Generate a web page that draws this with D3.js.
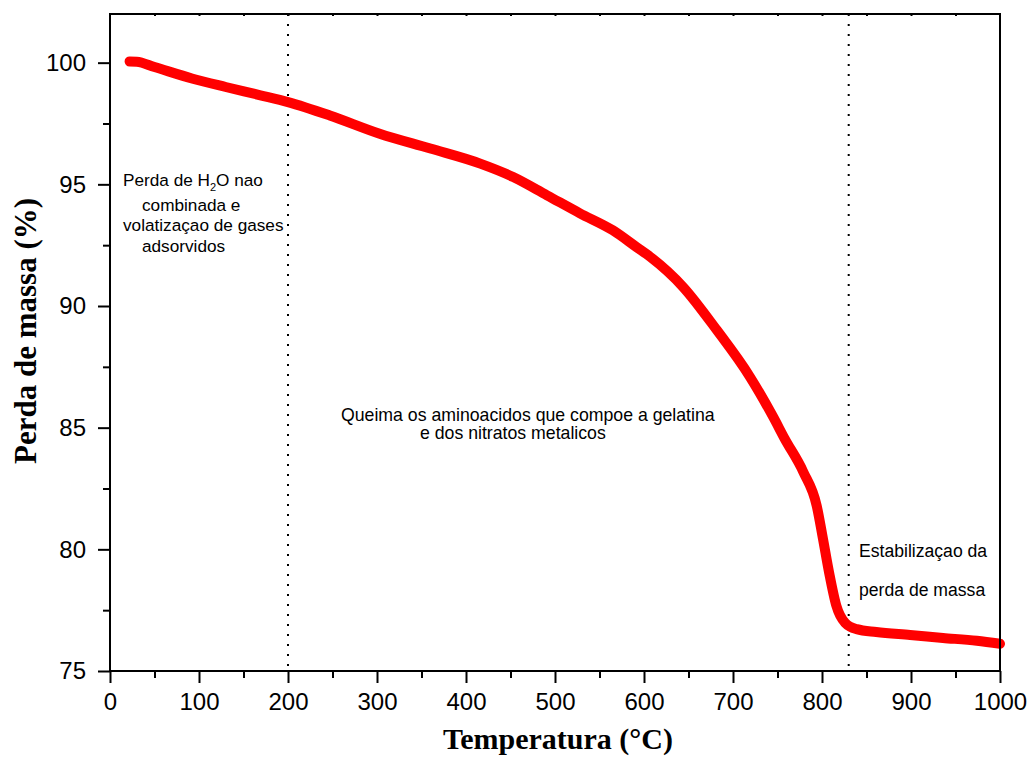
<!DOCTYPE html>
<html><head><meta charset="utf-8">
<script src="https://cdn.jsdelivr.net/npm/d3@7"></script>
<style>body{margin:0;background:#fff}svg{display:block}</style>
</head><body>
<svg id="c" width="1030" height="769"></svg>
<script>
const temperature = [22, 30, 50, 93, 130, 169, 200, 247, 303, 360, 416, 453, 491, 528, 565, 592, 607, 644, 682, 719, 745, 758, 779, 794, 801, 808, 816, 826, 839, 861, 899, 936, 974, 1000];
const massLoss = [100.05, 100.04, 99.82, 99.34, 99.0, 98.66, 98.38, 97.83, 97.08, 96.47, 95.85, 95.30, 94.55, 93.81, 93.11, 92.41, 92.02, 90.78, 89.0, 87.09, 85.45, 84.55, 83.18, 81.8, 80.45, 79.04, 77.7, 76.98, 76.72, 76.6, 76.48, 76.36, 76.24, 76.12];
const xTicks = [0, 100, 200, 300, 400, 500, 600, 700, 800, 900, 1000];
const yTicks = [75, 80, 85, 90, 95, 100];
const stageBoundaries = [200, 830];
const xTitle = "Temperatura (°C)";
const yTitle = "Perda de massa (%)";

const svg = d3.select("#c");
const L = 110, R = 1000, T = 14, B = 671;
const x = d3.scaleLinear().domain([0, 1000]).range([L, R]);
const y = d3.scaleLinear().domain([75, 102]).range([B, T]);
const sans = "'Liberation Sans', Arial, sans-serif";
const serif = "'Liberation Serif', 'Times New Roman', serif";

// dotted stage boundaries
svg.selectAll("line.stage").data(stageBoundaries).enter().append("line")
  .attr("x1", d => x(d)).attr("x2", d => x(d))
  .attr("y1", T).attr("y2", B)
  .attr("stroke", "#000").attr("stroke-width", 2).attr("stroke-dasharray", "2 8");

// curve
const data = temperature.map((t, i) => [t, massLoss[i]]);
svg.append("path").datum(data)
  .attr("fill", "none").attr("stroke", "#ff0000").attr("stroke-width", 10)
  .attr("stroke-linecap", "round").attr("stroke-linejoin", "round")
  .attr("d", d3.line().x(d => x(d[0])).y(d => y(d[1])).curve(d3.curveMonotoneX));

// frame
svg.append("rect").attr("x", L).attr("y", T).attr("width", R - L).attr("height", B - T)
  .attr("fill", "none").attr("stroke", "#000").attr("stroke-width", 2);

// axes
const xMinor = d3.range(50, 1000, 100);
const yMinor = d3.range(77.5, 100, 5);
const gx = svg.append("g").attr("transform", `translate(0,${B})`)
  .call(d3.axisBottom(x).tickValues(xTicks).tickSize(12).tickPadding(10).tickFormat(d3.format("d")));
const gxm = svg.append("g").attr("transform", `translate(0,${B})`)
  .call(d3.axisBottom(x).tickValues(xMinor).tickSize(7).tickFormat(""));
const gy = svg.append("g").attr("transform", `translate(${L},0)`)
  .call(d3.axisLeft(y).tickValues(yTicks).tickSize(12).tickPadding(12).tickFormat(d3.format("d")));
const gym = svg.append("g").attr("transform", `translate(${L},0)`)
  .call(d3.axisLeft(y).tickValues(yMinor).tickSize(7).tickFormat(""));
const gt = svg.append("g").attr("transform", `translate(0,${T})`)
  .call(d3.axisBottom(x).tickValues(d3.range(50, 1000, 50)).tickSize(2).tickFormat(""));
[gx, gxm, gy, gym, gt].forEach(g => {
  g.select(".domain").remove();
  g.selectAll("line").attr("stroke", "#000").attr("stroke-width", 2);
  g.selectAll("text").attr("font-family", sans).attr("font-size", 24).attr("fill", "#000");
});

// titles
svg.append("text").attr("x", 558).attr("y", 749).attr("text-anchor", "middle")
  .attr("font-family", serif).attr("font-weight", "bold").attr("font-size", 30).text(xTitle);
svg.append("text").attr("transform", "translate(36,331) rotate(-90)").attr("text-anchor", "middle")
  .attr("font-family", serif).attr("font-weight", "bold").attr("font-size", 31).text(yTitle);

// annotations
const ann = svg.append("g").attr("font-family", sans).attr("font-size", 17.2).attr("fill", "#000");
const t1 = ann.append("text").attr("x", 123).attr("y", 186);
t1.append("tspan").text("Perda de H");
t1.append("tspan").attr("font-size", 11).attr("dy", 5).text("2");
t1.append("tspan").attr("dy", -5).text("O nao");
ann.append("text").attr("x", 142).attr("y", 211).text("combinada e");
ann.append("text").attr("x", 123).attr("y", 231).text("volatizaçao de gases");
ann.append("text").attr("x", 142).attr("y", 252).text("adsorvidos");
ann.append("text").attr("x", 341).attr("y", 421).attr("font-size", 17.7).text("Queima os aminoacidos que compoe a gelatina");
ann.append("text").attr("x", 420).attr("y", 439).attr("font-size", 17.7).text("e dos nitratos metalicos");
ann.append("text").attr("x", 859).attr("y", 557).attr("font-size", 17.6).text("Estabilizaçao da");
ann.append("text").attr("x", 859).attr("y", 596).attr("font-size", 17.6).text("perda de massa");
</script>
</body></html>
